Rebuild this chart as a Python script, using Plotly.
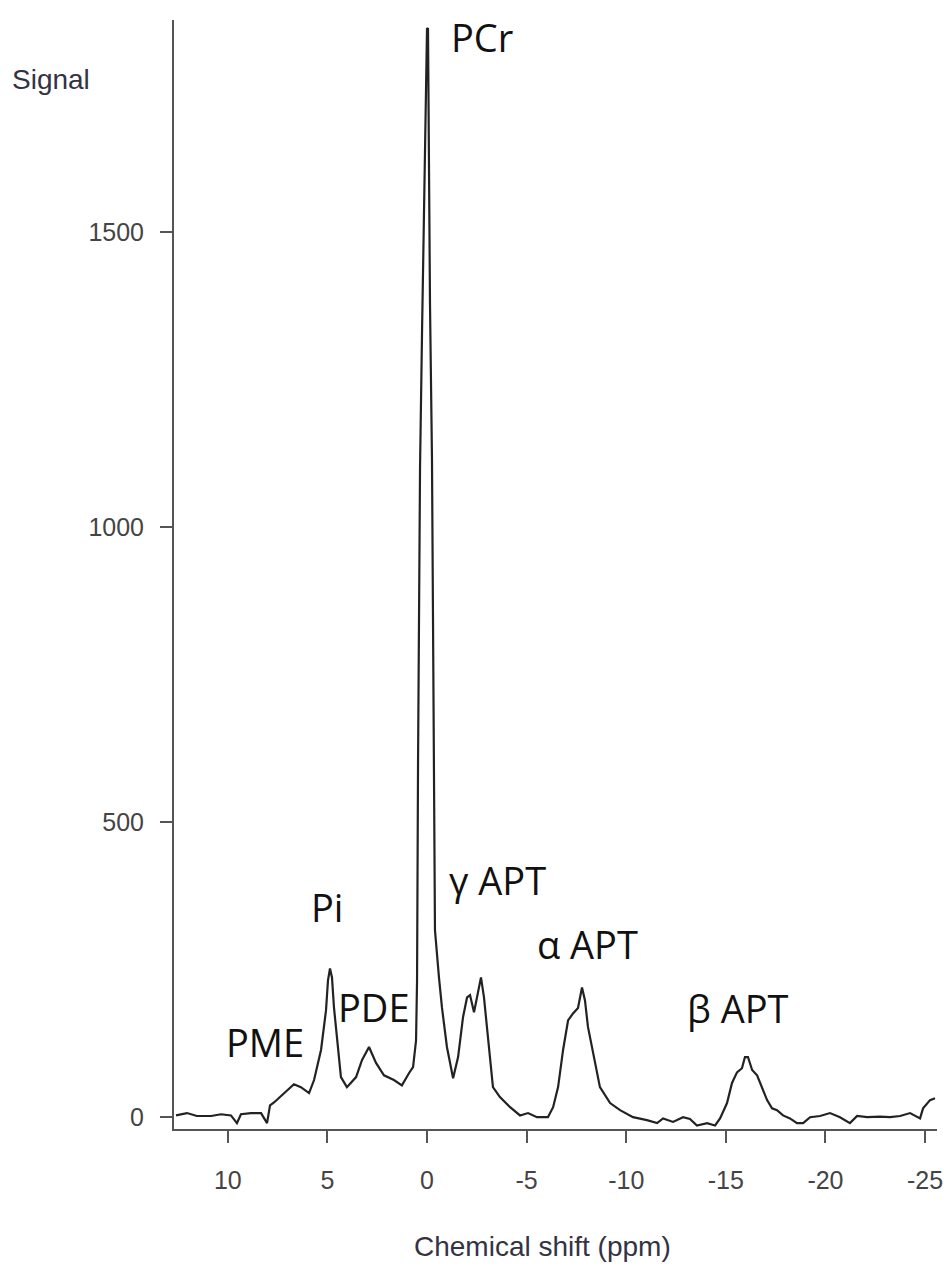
import plotly.graph_objects as go

# Chemical shift (ppm) and signal
ppm = [12.60, 12.05, 11.55, 10.84, 10.34, 9.84, 9.54, 9.34, 8.84, 8.33, 8.03, 7.88,
       7.68, 7.18, 6.68, 6.33, 5.92, 5.67, 5.32, 5.07, 4.97, 4.87, 4.77, 4.67, 4.52,
       4.32, 4.02, 3.56, 3.26, 2.91, 2.56, 2.16, 1.66, 1.26, 0.90, 0.70, 0.55, 0.50,
       0.45, 0.35, 0.25, 0.10, 0.00, -0.05, -0.15, -0.25, -0.35, -0.40, -0.60, -0.75,
       -1.00, -1.31, -1.56, -1.81, -2.01, -2.16, -2.36, -2.56, -2.71, -2.86, -3.06,
       -3.31, -3.66, -4.17, -4.67, -5.07, -5.52, -6.07, -6.33, -6.58, -6.83, -7.08,
       -7.33, -7.58, -7.78, -7.93, -8.08, -8.33, -8.68, -9.19, -9.69, -10.34, -11.04,
       -11.55, -11.85, -12.35, -12.85, -13.20, -13.55, -14.06, -14.46, -14.71, -15.06,
       -15.31, -15.56, -15.81, -15.96, -16.11, -16.32, -16.57, -16.82, -17.07, -17.32,
       -17.57, -17.87, -18.22, -18.57, -18.88, -19.23, -19.73, -20.23, -20.73, -21.23,
       -21.59, -22.09, -22.74, -23.24, -23.75, -24.25, -24.75, -24.90, -25.25, -25.50]
signal = [3, 7, 2, 2, 5, 3, -10, 5, 7, 7, -10, 20,
          25, 41, 56, 51, 41, 63, 114, 181, 232, 252, 237, 186, 131,
          68, 51, 68, 97, 119, 92, 71, 63, 54, 75, 85, 130, 230,
          600, 1100, 1329, 1622, 1845, 1846, 1380, 1114, 453, 317, 237, 186,
          119, 66, 102, 170, 203, 207, 178, 210, 237, 203, 131,
          51, 34, 17, 3, 7, 0, 0, 17, 51, 114, 164,
          176, 185, 220, 198, 153, 108, 51, 24, 12, 0, -5,
          -10, -2, -8, 0, -3, -14, -10, -14, -2, 24,
          58, 76, 83, 102, 102, 80, 71, 51, 29, 15,
          12, 3, -2, -10, -10, 0, 2, 7, 0, -10,
          2, 0, 1, 0, 2, 7, -2, 15, 29, 32]

x_ticks = [10, 5, 0, -5, -10, -15, -20, -25]
x_tick_labels = ["10", "5", "0", "-5", "-10", "-15", "-20", "-25"]
y_ticks = [0, 500, 1000, 1500]
y_tick_labels = ["0", "500", "1000", "1500"]

peak_names = ["PCr", "Pi", "PDE", "PME", "γ APT", "α APT", "β APT"]
label_ppm = [-2.76, 5.02, 2.66, 8.13, -3.56, -8.08, -15.61]
label_sig = [1832, 356, 186, 127, 402, 293, 185]

fig = go.Figure()
fig.add_trace(go.Scatter(x=ppm, y=signal, mode="lines",
                         line=dict(color="#222222", width=2.2), showlegend=False))

for name, xv, yv in zip(peak_names, label_ppm, label_sig):
    fig.add_annotation(x=xv, y=yv, xref="x", yref="y", text=name, showarrow=False,
                       xanchor="center", yanchor="middle",
                       font=dict(family="Open Sans", size=38, color="#111111"))

fig.add_annotation(x=-0.2150, y=0.946, xref="paper", yref="paper", text="Signal",
                   showarrow=False, xanchor="left", yanchor="middle",
                   font=dict(family="Liberation Sans", size=28, color="#333344"))
fig.add_annotation(x=0.4836, y=-0.1064, xref="paper", yref="paper",
                   text="Chemical shift (ppm)", showarrow=False,
                   xanchor="center", yanchor="middle",
                   font=dict(family="Liberation Sans", size=28, color="#333344"))

axis_common = dict(showline=True, linecolor="#555555", linewidth=2, mirror=False,
                   showgrid=False, zeroline=False, ticks="outside", ticklen=12,
                   tickwidth=2, tickcolor="#555555", automargin=False,
                   tickfont=dict(family="Liberation Sans", size=25, color="#444444"))

fig.update_xaxes(range=[12.7, -25.6], tickmode="array", tickvals=x_ticks,
                 ticktext=x_tick_labels, ticklabelstandoff=16, **axis_common)
fig.update_yaxes(range=[-20, 1860], tickmode="array", tickvals=y_ticks,
                 ticktext=y_tick_labels, ticklabelstandoff=11, **axis_common)

# page body has an 8px default margin; compensate so the plot area lands in place
fig.update_layout(width=951, height=1269, paper_bgcolor="white", plot_bgcolor="white",
                  margin=dict(l=166, r=22, t=12, b=148))

fig.write_html("out.html")
